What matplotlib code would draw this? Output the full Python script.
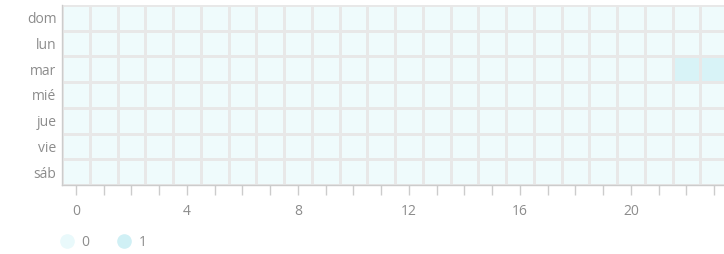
import matplotlib.pyplot as plt
import numpy as np
from matplotlib.colors import ListedColormap
from matplotlib.lines import Line2D

plt.rcParams['font.family'] = ['Open Sans', 'DejaVu Sans']

days = ['dom', 'lun', 'mar', 'mié', 'jue', 'vie', 'sáb']
hours = list(range(24))
# values per day (0/1), 24 hours each
dom = [0] * 24
lun = [0] * 24
mar = [0] * 22 + [1, 1]
mie = [0] * 24
jue = [0] * 24
vie = [0] * 24
sab = [0] * 24
levels = [0, 1]

data = np.array([dom, lun, mar, mie, jue, vie, sab])

cell_colors = ['#effbfc', '#d8f3f7']
legend_colors = ['#e9f9fb', '#d0f0f5']
text_col = '#8c8c8c'

W, H = 724, 254
fig = plt.figure(figsize=(W / 100, H / 100), dpi=100)
ax = fig.add_axes([62 / W, (H - 185) / H, 666 / W, 180 / H])

cmap = ListedColormap(cell_colors)
ax.pcolormesh(np.arange(25), np.arange(8), data, cmap=cmap, vmin=0, vmax=1,
              edgecolors='#e8e8e8', linewidth=0.75)
ax.set_xlim(0, 24)
ax.set_ylim(7, 0)

ax.set_yticks(np.arange(7) + 0.5)
ax.set_yticklabels(days)
ax.set_xticks(np.arange(24) + 0.5)
ax.set_xticklabels([str(h) if h % 4 == 0 else '' for h in hours])

ax.tick_params(axis='y', length=0, pad=4, labelsize=10, labelcolor=text_col)
ax.tick_params(axis='x', length=7, width=1, color='#cccccc', pad=7,
               labelsize=10, labelcolor=text_col)

for s in ['top', 'right']:
    ax.spines[s].set_visible(False)
for s in ['left', 'bottom']:
    ax.spines[s].set_color('#cccccc')
    ax.spines[s].set_linewidth(1)

handles = [Line2D([], [], marker='o', linestyle='none', markersize=9.5,
                  markerfacecolor=c, markeredgecolor=c) for c in legend_colors]
fig.legend(handles, [str(v) for v in levels], loc='center left',
           bbox_to_anchor=(46 / W, 1 - 242 / H), ncol=2, frameon=False,
           handletextpad=0.45, columnspacing=1.9, handlelength=1.2,
           prop={'size': 10}, labelcolor=text_col)

plt.savefig('out.png', format='png')
